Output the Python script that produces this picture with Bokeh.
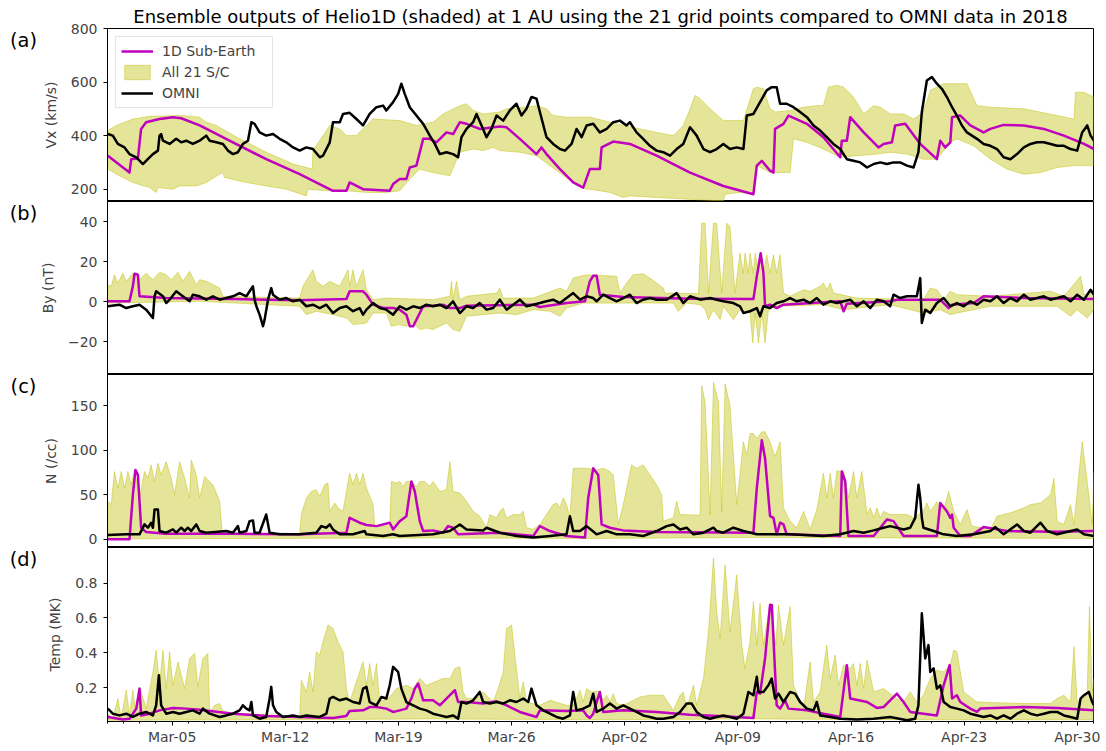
import numpy as np
from datetime import datetime
from bokeh.plotting import figure
from bokeh.layouts import column, row
from bokeh.models import (Range1d, FixedTicker, DatetimeTickFormatter, Label,
                          Legend, LegendItem)
from bokeh.embed import file_html
from bokeh.resources import INLINE

# ---------------- data (days since 2018-03-01 00:00) ----------------
# Panel (a) Vx (km/s)
va_omni_day = [0.02,0.33,0.64,1.05,1.36,1.78,2.19,2.60,2.81,3.12,
               3.22,3.32,3.43,3.84,4.25,4.56,4.87,5.28,5.70,6.11,
               6.32,6.73,7.14,7.45,7.76,8.07,8.38,8.69,8.90,9.10,
               9.41,9.82,10.24,10.65,11.06,11.48,11.89,12.30,12.71,13.13,
               13.33,13.75,13.95,14.37,14.57,14.98,15.40,15.81,16.22,16.64,
               17.05,17.25,17.67,17.98,18.18,18.39,18.70,19.11,19.53,19.94,
               20.25,20.56,20.97,21.38,21.69,21.90,22.21,22.62,22.83,23.14,
               23.45,23.75,24.07,24.48,24.89,25.30,25.61,25.92,26.23,26.54,
               26.75,27.16,27.57,27.99,28.30,28.71,29.02,29.33,29.64,30.05,
               30.46,30.88,31.29,31.70,32.11,32.32,32.73,33.14,33.56,33.97,
               34.38,34.80,35.21,35.62,36.04,36.45,36.87,37.28,37.69,38.10,
               38.51,38.93,39.34,39.55,39.96,40.37,40.78,41.09,41.40,41.61,
               42.02,42.44,42.85,43.27,43.68,44.09,44.50,44.91,45.33,45.74,
               46.15,46.57,46.99,47.40,47.81,48.22,48.63,49.04,49.46,49.87,
               50.17,50.38,50.69,51.00,51.31,51.62,51.93,52.25,52.55,52.86,
               53.17,53.48,53.79,54.20,54.62,55.03,55.44,55.86,56.27,56.69,
               57.10,57.51,57.93,58.34,58.75,59.17,59.58,59.99,60.30,60.61,
               60.82,61.03]
va_omni = [406,400,369,356,331,319,294,319,331,344,
           400,406,381,369,388,375,381,369,381,400,
           381,375,369,344,331,338,369,381,450,444,
           412,400,406,388,375,356,344,356,350,319,
           325,375,450,450,481,485,462,438,481,506,
           512,494,525,556,594,556,506,475,444,400,
           369,331,338,331,319,394,425,450,481,438,
           394,425,475,456,494,519,475,500,544,538,
           488,394,369,350,344,369,425,394,438,444,
           412,425,450,456,438,450,412,388,362,344,
           338,325,350,369,431,400,350,338,350,369,
           350,356,350,475,481,525,569,581,581,519,
           519,506,488,469,438,419,394,369,350,312,
           306,300,281,294,300,294,300,300,288,281,
           338,488,606,619,594,575,544,506,475,438,
           412,400,388,369,362,350,319,312,331,356,
           369,375,375,369,362,362,350,344,412,438,
           400,381]
va_sub_day = [0.02,1.36,1.47,1.88,2.08,2.39,3.22,4.05,4.56,5.70,
              7.76,9.82,11.89,13.95,14.78,14.98,15.81,17.46,17.67,18.08,
              18.49,18.70,19.11,19.53,19.94,20.35,20.97,21.38,21.80,22.21,
              23.03,24.27,24.69,25.51,26.54,26.85,27.16,27.99,28.81,29.43,
              29.84,30.46,30.57,31.29,32.32,33.97,36.04,38.10,39.96,40.17,
              40.48,40.99,41.20,41.30,41.82,42.13,43.27,44.29,45.33,45.43,
              45.74,45.95,46.78,47.70,48.01,48.53,48.73,49.35,50.28,51.31,
              51.52,51.83,52.14,52.25,52.76,53.38,54.20,54.62,55.44,56.69,
              57.93,59.17,60.41,61.03]
va_sub = [325,262,312,315,425,450,462,469,465,438,
          375,312,256,194,194,225,200,194,219,238,
          238,281,288,388,388,375,412,406,450,444,
          425,434,431,388,331,356,331,275,225,206,
          275,275,356,378,369,325,262,212,181,288,
          306,269,262,425,444,475,444,394,319,381,
          381,469,412,356,369,375,438,444,369,312,
          381,356,375,469,475,438,412,425,440,438,
          425,400,369,350]
va_hi_day = [0.02,0.54,1.57,2.60,4.66,5.70,6.11,6.73,8.17,9.82,
             11.48,12.67,12.71,13.75,14.37,14.78,15.40,16.02,16.43,18.08,
             19.11,20.14,20.76,21.80,22.21,22.62,23.24,24.27,24.69,25.92,
             26.54,27.16,27.57,28.40,29.43,29.85,31.91,33.97,35.01,35.21,
             35.62,36.04,36.35,36.66,37.28,38.10,39.34,39.96,40.17,40.58,
             40.99,41.30,42.23,43.06,43.88,44.29,44.60,45.12,45.54,46.15,
             46.78,47.40,47.81,48.42,49.25,49.87,50.48,50.90,51.73,53.17,
             53.79,54.62,56.69,58.75,59.79,59.89,60.41,61.03]
va_hi = [419,438,462,472,475,469,450,438,388,338,
         294,275,344,438,425,400,400,438,462,456,
         438,450,481,512,519,494,481,488,500,506,
         512,500,475,469,469,469,438,412,400,412,
         438,500,550,538,500,456,456,575,581,575,
         500,488,494,506,512,512,581,588,581,544,
         481,512,506,481,481,462,488,569,594,594,
         512,506,500,475,462,562,562,544]
va_lo_day = [0.02,0.74,1.57,2.60,3.01,3.12,4.05,4.46,5.49,6.11,
             6.94,7.14,7.24,8.59,9.82,11.06,12.30,12.40,13.54,14.78,
             16.02,17.25,18.08,18.70,19.32,20.14,21.18,21.80,22.62,23.24,
             23.86,24.27,25.51,26.54,27.37,28.81,29.64,29.85,31.08,31.91,
             32.32,33.97,36.04,38.10,38.21,39.13,39.96,40.17,40.99,42.23,
             42.44,43.27,44.29,45.33,46.36,47.60,48.42,49.46,50.48,51.31,
             52.14,52.55,53.59,54.62,55.65,56.69,57.72,58.75,59.79,61.03]
va_lo = [275,250,225,206,188,206,200,212,212,225,
         256,262,244,225,212,200,175,200,194,194,
         188,188,194,238,275,262,250,338,350,344,
         356,344,338,325,288,225,200,200,188,169,
         175,169,162,156,181,188,181,288,262,262,
         388,375,350,319,325,331,338,331,312,312,
         375,388,362,312,275,256,262,281,288,288]

# Panel (b) By (nT)
vb_omni_day = [0.02,0.74,1.16,1.57,1.98,2.39,2.81,2.91,3.01,3.43,
               3.63,3.84,4.25,4.66,5.08,5.28,5.70,6.11,6.52,6.94,
               7.35,7.76,8.17,8.59,9.00,9.10,9.21,9.41,9.62,9.72,
               9.93,10.13,10.24,10.65,11.06,11.48,11.89,12.30,12.71,13.13,
               13.54,13.95,14.37,14.78,15.19,15.60,15.81,16.02,16.43,16.84,
               17.25,17.67,18.08,18.49,18.91,19.32,19.73,20.14,20.56,20.97,
               21.38,21.80,22.21,22.62,23.03,23.45,23.86,24.27,24.69,25.10,
               25.51,25.92,26.34,26.75,27.16,27.57,27.99,28.40,28.81,29.23,
               29.64,30.05,30.26,30.67,31.08,31.50,31.91,32.32,32.73,33.14,
               33.56,33.97,34.59,35.21,35.62,36.04,36.66,37.28,37.69,38.10,
               38.72,39.13,39.34,39.75,40.17,40.37,40.58,40.99,41.40,41.82,
               42.23,42.64,43.06,43.47,43.88,44.29,44.71,45.12,45.54,45.95,
               46.36,46.78,47.19,47.60,48.01,48.42,48.63,49.04,49.46,50.07,
               50.28,50.38,50.59,50.90,51.31,51.73,52.14,52.55,52.97,53.38,
               53.79,54.20,54.62,55.03,55.44,55.86,56.27,56.69,57.10,57.51,
               57.93,58.34,58.75,59.17,59.58,59.99,60.41,60.82,61.03]
vb_omni = [-2.3,-1.5,-3.2,-2.3,-1.5,-4.0,-8.2,2.7,5.2,2.7,
           -0.7,1.0,5.2,2.7,0.2,3.5,2.7,1.0,2.7,1.0,
           1.8,2.7,4.3,2.7,7.7,1.0,-2.3,-6.5,-12.3,-9.0,
           1.0,6.8,3.5,1.0,1.8,0.2,1.0,-2.3,-1.5,-3.2,
           -1.5,-5.7,-3.2,-2.3,-4.8,-3.2,-6.5,-4.0,-0.7,-3.2,
           -4.0,-6.5,-2.3,-4.0,-2.3,-3.2,-1.5,-2.3,-1.5,-3.2,
           0.2,-5.7,-2.3,-3.2,-0.7,-4.0,-3.2,1.0,-4.0,-1.5,
           1.0,-2.3,-1.5,-0.7,0.2,1.0,-0.7,1.8,4.3,1.0,
           2.7,1.8,0.2,3.5,1.8,0.2,1.8,3.5,-0.7,1.0,
           1.8,1.0,1.0,4.3,-0.7,2.7,1.0,1.8,1.0,0.2,
           -0.7,-2.3,-5.7,-4.8,-3.2,-7.3,-2.3,-3.2,-0.7,0.2,
           1.8,0.2,1.0,-0.7,1.8,-1.5,0.2,-0.7,0.2,1.0,
           -2.3,0.2,-3.2,1.0,0.2,-2.3,3.5,1.8,2.7,2.7,
           11.8,-10.7,-4.0,-5.7,-0.7,1.8,-2.3,-0.7,-2.3,0.2,
           -1.5,1.0,0.2,2.7,-0.7,1.8,0.2,3.5,1.0,1.8,
           2.7,1.0,1.8,2.7,0.2,3.5,1.0,6.0,3.5]
vb_sub_day = [0.02,1.36,1.57,1.67,1.88,1.98,3.63,7.76,11.89,14.78,
              14.98,15.81,16.02,16.43,17.05,17.67,18.08,18.49,18.70,18.91,
              19.53,20.14,20.76,21.18,21.80,22.21,26.34,26.75,28.40,29.54,
              29.84,30.05,30.26,30.46,31.91,36.04,39.96,40.17,40.41,40.58,
              40.68,40.99,41.40,41.82,44.29,45.33,45.54,45.74,48.42,48.84,
              51.52,51.73,52.04,52.25,53.59,54.20,56.69,61.03]
vb_sub = [0.2,0.2,7.7,14.0,13.5,2.7,1.8,1.3,0.7,1.3,
          5.2,5.2,3.5,-1.5,-3.2,-3.2,-4.0,-6.5,-12.3,-12.3,
          -2.3,-2.0,-1.5,-3.2,-3.2,-2.0,-1.5,-2.7,-0.7,0.2,
          10.2,13.0,13.0,3.5,2.3,1.5,1.3,12.7,24.3,14.3,
          -2.3,-1.5,-3.2,-1.5,-0.3,0.2,-4.8,-1.0,0.2,1.0,
          1.0,-0.7,-3.2,-1.5,-0.7,2.7,1.8,1.3]
vb_hi_day = [0.02,0.23,0.43,0.64,0.95,1.16,1.57,1.98,2.39,2.81,
             3.22,3.63,3.94,4.36,4.66,5.08,5.49,5.70,6.11,6.52,
             6.94,7.14,11.89,12.09,12.71,12.92,13.33,13.75,14.37,14.88,
             14.98,15.19,15.40,15.81,16.02,16.43,17.25,20.14,21.18,21.28,
             21.38,21.59,21.80,22.21,24.07,24.27,24.48,26.34,27.16,27.99,
             28.40,28.81,29.23,29.64,31.50,31.70,32.11,32.52,33.14,33.56,
             34.38,34.49,36.56,36.76,36.97,37.18,37.49,37.69,38.00,38.31,
             38.51,38.82,39.13,39.34,39.44,39.65,39.75,39.96,40.07,40.27,
             40.41,40.58,40.78,40.99,41.20,41.40,41.61,41.82,42.23,43.06,
             43.47,44.09,44.29,44.50,44.71,44.91,46.36,50.48,50.90,51.31,
             51.73,52.14,52.55,54.62,58.34,59.17,60.20,60.41,61.03]
vb_hi = [8.5,7.7,13.5,9.3,14.3,10.2,14.3,11.0,14.3,11.0,
         14.7,13.5,11.0,14.7,10.2,15.2,8.5,11.0,10.2,8.5,
         6.8,2.7,1.8,7.7,16.0,10.2,7.7,10.2,7.7,16.0,
         7.7,16.0,7.7,16.0,6.0,1.0,1.8,1.0,2.7,10.2,
         1.0,10.2,1.0,2.7,4.3,6.8,1.8,1.8,4.3,6.8,
         5.2,11.8,12.7,13.5,12.7,4.3,9.3,13.5,14.0,11.8,
         6.8,4.3,4.0,39.3,39.3,4.3,39.3,39.3,4.3,39.3,
         37.7,4.3,24.3,14.3,24.3,14.3,24.3,14.3,24.3,14.3,
         24.3,14.3,23.5,14.3,23.5,14.3,23.5,4.3,2.7,6.0,
         5.2,7.7,9.3,6.0,9.3,4.3,1.8,1.0,6.8,6.0,
         1.0,5.2,3.5,2.7,5.2,2.7,12.7,3.5,4.3]
vb_lo_day = [0.02,5.70,11.89,12.30,12.92,13.95,14.78,15.19,16.02,16.43,
             17.25,17.56,18.08,18.49,18.91,19.32,19.73,20.14,20.56,20.97,
             21.38,21.80,22.21,23.24,24.27,25.30,26.34,27.37,27.99,28.40,
             29.43,35.01,35.31,35.83,36.66,36.97,37.18,37.49,37.90,38.10,
             38.72,39.13,39.75,39.92,40.07,40.27,40.48,40.68,40.89,41.40,
             44.29,45.54,48.42,50.48,51.52,52.14,52.55,53.59,54.62,58.75,
             59.58,59.99,60.61,61.03]
vb_lo = [-0.7,0.2,-2.3,-6.5,-4.8,-6.5,-8.2,-11.5,-10.7,-5.7,
         -5.7,-12.3,-11.5,-12.3,-10.7,-14.0,-13.2,-14.0,-12.3,-10.7,
         -14.0,-14.8,-7.3,-6.5,-5.7,-6.5,-4.0,-4.8,-7.3,-3.2,
         -0.7,-0.7,-4.8,-0.7,-1.5,-4.0,-9.0,-4.0,-9.0,-2.3,
         -9.0,-4.0,-5.7,-20.7,-5.7,-20.7,-5.7,-20.7,-4.0,-2.3,
         -1.5,-4.0,-1.5,-5.7,-4.0,-6.5,-5.7,-4.0,-2.3,-2.3,
         -7.3,-4.0,-8.2,-4.0]

# Panel (c) N (/cc)
vc_omni_day = [0.02,1.16,1.98,2.29,2.50,2.70,2.81,2.91,3.12,3.22,
               3.63,4.05,4.25,4.56,4.77,4.97,5.18,5.49,5.70,6.11,
               7.35,7.76,8.07,8.17,8.59,8.79,9.00,9.10,9.41,9.82,
               10.03,10.65,11.89,12.92,13.23,13.54,13.75,13.95,14.37,15.19,
               15.91,16.02,17.05,17.67,18.08,20.14,21.18,21.80,22.21,23.24,
               23.45,24.27,25.30,26.34,27.37,28.40,28.61,28.81,29.23,29.64,
               30.26,30.88,31.50,32.32,33.14,33.97,34.59,35.01,35.42,35.83,
               36.25,36.87,37.49,37.69,38.10,38.72,39.34,40.17,42.23,44.29,
               45.33,46.15,46.78,47.40,48.01,48.42,49.25,49.66,49.97,50.17,
               50.28,50.38,50.48,51.11,51.73,52.55,53.59,54.62,54.93,55.44,
               56.27,56.69,57.10,57.72,58.13,58.75,59.99,60.41,61.03]
vc_omni = [4.8,5.6,5.6,16.7,13.0,18.6,13.0,33.4,33.4,9.3,
           7.4,11.1,7.4,13.0,9.3,13.0,9.3,16.7,9.3,7.4,
           9.3,7.4,14.8,7.4,9.3,20.4,21.1,7.4,7.4,27.8,
           7.4,5.6,5.6,7.4,14.8,13.0,16.7,11.1,5.6,5.6,
           9.3,5.6,3.7,5.6,3.7,5.6,9.3,16.7,11.1,10.0,
           13.0,7.4,3.7,1.9,3.7,5.6,26.0,9.3,9.3,14.8,
           5.6,9.3,5.6,5.6,3.7,9.3,14.8,16.7,11.1,13.0,
           5.6,7.4,13.0,9.3,7.4,13.0,9.3,5.6,5.6,3.7,
           5.6,9.3,7.4,10.0,13.0,14.8,11.1,13.0,24.1,61.2,
           46.4,24.1,13.0,9.3,5.6,3.7,5.6,9.3,13.7,5.6,
           16.7,9.3,7.4,18.6,9.3,5.6,11.1,5.6,3.7]
vc_sub_day = [0.02,1.36,1.57,1.73,1.88,2.08,2.39,3.63,7.76,11.89,
              14.78,14.98,15.60,16.02,16.64,17.46,17.67,18.08,18.49,18.80,
              19.01,19.32,19.53,20.14,20.76,21.07,21.38,21.69,24.27,26.34,
              26.75,27.37,28.40,29.54,29.74,30.05,30.36,30.57,31.08,31.91,
              33.97,39.96,40.17,40.48,40.68,40.99,41.20,41.40,41.61,41.82,
              42.02,45.33,45.43,45.64,45.84,47.40,47.81,48.22,48.63,49.25,
              51.31,51.52,51.93,52.14,52.25,52.35,52.76,53.38,54.20,55.65,
              58.75,61.03]
vc_sub = [0.0,0.0,50.1,77.9,72.3,13.0,8.2,6.3,6.3,5.6,
          7.4,24.1,18.6,16.0,14.8,18.6,11.1,20.4,26.0,64.9,
          53.8,20.4,9.3,10.0,7.4,14.8,13.0,5.6,7.4,3.7,
          14.8,9.3,3.7,1.9,46.4,79.8,72.3,16.7,13.0,10.0,
          8.2,7.4,57.5,111.3,90.9,26.0,24.1,5.6,18.6,16.7,
          5.6,3.7,76.1,64.9,3.7,3.7,13.0,22.3,20.4,3.7,
          3.7,40.8,31.5,24.1,27.8,13.0,3.7,3.7,13.7,9.3,
          8.5,9.3]
vc_hi_day = [0.02,0.23,0.43,0.64,0.85,1.05,1.26,1.47,1.67,1.98,
             2.29,2.50,2.70,2.91,3.12,3.32,3.63,3.94,4.15,4.46,
             4.77,5.08,5.18,5.49,5.70,6.01,6.52,6.94,7.10,11.89,
             11.99,12.30,12.61,12.92,13.13,13.44,13.64,13.75,14.06,14.26,
             14.57,14.98,15.19,15.40,15.60,15.81,16.02,16.43,16.53,17.46,
             17.56,17.87,18.08,18.29,18.49,18.80,19.11,19.32,19.63,19.94,
             20.14,20.56,20.97,21.18,21.38,21.80,22.21,22.62,23.03,23.45,
             23.65,24.07,24.27,24.48,24.69,25.10,25.51,25.72,25.92,26.34,
             26.75,27.16,27.57,27.78,27.99,28.19,28.40,28.61,28.81,29.64,
             30.26,30.67,31.08,31.29,31.60,31.91,32.42,32.73,33.14,33.56,
             33.97,34.28,34.38,35.01,35.21,35.42,36.66,36.76,36.97,37.28,
             37.49,37.80,38.00,38.21,38.51,38.93,39.34,39.55,39.75,39.96,
             40.17,40.48,40.68,40.99,41.30,41.61,41.82,42.23,42.64,43.06,
             43.47,43.88,44.29,44.50,44.71,44.91,45.12,45.54,45.84,46.15,
             46.36,46.67,46.99,47.19,47.40,47.60,47.81,48.01,48.42,49.46,
             49.87,50.48,50.69,50.90,51.31,51.73,52.04,52.35,52.76,53.17,
             53.48,54.62,55.03,55.86,56.69,57.10,57.72,58.34,58.55,58.75,
             59.17,59.58,59.79,60.30,60.61,60.92,61.03]
vc_hi = [42.7,39.0,76.1,57.5,76.1,57.5,76.1,61.2,78.0,46.4,
         76.1,68.6,83.5,64.9,85.3,72.3,87.2,68.6,50.1,87.2,
         68.6,46.4,89.0,72.3,46.4,70.5,61.2,42.7,6.5,6.5,
         27.8,46.4,53.8,55.7,48.2,61.2,63.1,31.5,40.8,35.2,
         31.5,74.2,61.2,74.2,61.2,74.2,57.5,39.0,15.0,15.0,
         64.9,63.1,64.9,59.4,64.9,64.9,59.4,64.9,64.9,59.4,
         64.9,53.8,55.7,87.2,53.8,51.9,42.7,31.5,26.0,13.0,
         27.8,24.1,31.5,35.2,24.1,27.8,27.8,31.5,13.0,11.1,
         16.7,27.8,39.0,40.8,35.2,46.4,39.0,24.1,79.8,79.8,
         77.9,79.8,76.1,72.3,16.7,39.0,83.5,79.8,83.5,72.3,
         61.2,50.1,20.4,24.1,42.7,27.8,27.1,172.5,154.0,27.8,
         176.2,154.0,31.5,174.4,150.3,39.0,109.4,94.6,118.7,118.7,
         113.2,120.6,120.6,109.4,92.8,109.4,35.2,20.4,13.0,31.5,
         11.1,33.4,74.2,46.4,74.2,46.4,76.5,76.5,46.4,76.1,
         46.4,76.1,27.8,35.2,24.1,35.2,24.1,31.5,27.8,27.8,
         24.1,31.5,40.8,31.5,42.0,33.4,53.8,31.5,16.7,33.4,
         14.8,11.1,26.0,29.7,35.2,39.0,40.8,50.1,68.6,20.4,
         16.7,39.0,16.7,109.4,64.9,16.7,76.1]
vc_lo_day = [0.02,1.5,10.0,20.0,30.0,40.0,50.0,61.03]
vc_lo = [0.0,0.5,1.0,1.5,1.0,2.0,1.5,1.0]

# Panel (d) Temp (MK)
vd_omni_day = [0.02,0.33,0.74,1.16,1.57,1.98,2.39,2.81,3.01,3.18,
               3.32,3.63,4.05,4.46,4.87,5.28,5.70,5.90,6.32,6.94,
               7.35,7.76,8.17,8.38,8.59,8.79,8.90,9.00,9.41,9.82,
               10.03,10.13,10.24,10.44,10.86,11.48,11.89,12.30,13.13,13.54,
               13.75,13.95,14.37,14.78,15.19,15.60,15.81,16.02,16.22,16.64,
               16.95,17.25,17.46,17.67,17.98,18.18,18.49,18.91,19.32,19.73,
               20.14,20.56,20.97,21.38,21.69,21.90,22.21,22.62,23.03,23.24,
               23.65,24.07,24.48,24.89,25.30,25.72,26.03,26.23,26.54,26.96,
               27.37,27.78,28.19,28.61,28.81,29.02,29.43,29.84,
               30.05,30.26,30.67,31.08,31.50,31.91,32.32,32.73,33.14,33.56,
               33.97,34.38,35.01,35.42,35.83,36.14,36.45,36.87,37.28,37.69,
               38.10,38.51,38.93,39.34,39.65,39.96,40.17,40.27,40.58,40.89,
               41.09,41.30,41.51,41.82,42.23,42.54,42.85,43.27,43.68,43.88,
               44.09,44.71,45.33,46.36,47.40,48.42,49.46,49.97,50.17,50.38,
               50.59,50.79,50.90,51.11,51.31,51.52,51.73,52.14,52.55,52.97,
               53.38,54.20,54.62,55.03,55.44,55.86,56.27,56.69,57.10,57.51,
               57.93,58.34,58.75,59.17,59.58,59.99,60.20,60.41,60.71,60.92,
               61.03]
vd_omni = [0.079,0.050,0.040,0.050,0.031,0.050,0.060,0.040,0.098,0.271,
           0.098,0.050,0.060,0.050,0.060,0.069,0.050,0.079,0.050,0.031,
           0.040,0.050,0.069,0.098,0.079,0.069,0.117,0.040,0.021,0.031,
           0.137,0.204,0.098,0.060,0.031,0.040,0.031,0.040,0.031,0.050,
           0.137,0.146,0.127,0.137,0.117,0.108,0.194,0.204,0.117,0.098,
           0.146,0.137,0.213,0.319,0.290,0.194,0.117,0.098,0.079,0.069,
           0.050,0.040,0.031,0.040,0.021,0.117,0.108,0.127,0.175,0.117,
           0.108,0.117,0.108,0.127,0.117,0.137,0.117,0.194,0.098,0.069,
           0.050,0.031,0.021,0.040,0.175,0.069,0.079,0.098,
           0.165,0.060,0.079,0.108,0.079,0.098,0.079,0.060,0.040,0.031,
           0.021,0.021,0.031,0.060,0.108,0.108,0.060,0.031,0.021,0.031,
           0.040,0.031,0.021,0.050,0.175,0.156,0.262,0.175,0.175,0.213,
           0.252,0.137,0.165,0.117,0.175,0.165,0.117,0.079,0.069,0.117,
           0.040,0.031,0.021,0.017,0.021,0.031,0.012,0.021,0.098,0.627,
           0.367,0.444,0.290,0.310,0.194,0.213,0.117,0.088,0.079,0.069,
           0.050,0.031,0.040,0.021,0.040,0.021,0.050,0.069,0.050,0.040,
           0.050,0.060,0.060,0.040,0.031,0.021,0.137,0.156,0.175,0.117,
           0.098]
vd_sub_day = [0.02,0.95,1.36,1.78,1.98,2.08,2.60,3.22,4.05,4.87,
              5.70,7.76,9.82,11.89,13.95,14.78,14.98,15.81,16.22,16.64,
              17.25,17.67,18.08,18.49,18.80,19.01,19.22,19.53,20.14,20.56,
              20.97,21.49,21.69,22.21,23.24,24.07,24.69,25.51,26.54,26.75,
              28.40,29.43,29.64,29.84,30.05,30.26,30.46,30.67,31.91,33.97,
              36.04,38.10,39.96,40.17,40.37,40.68,40.99,41.10,41.40,41.61,
              41.92,42.13,43.27,44.29,45.33,45.74,45.95,46.99,47.60,48.01,
              48.42,48.84,49.25,49.66,50.48,51.31,51.73,52.10,52.25,52.55,
              52.76,53.38,53.79,53.99,56.69,58.75,61.03]
vd_sub = [0.031,0.017,0.021,0.079,0.194,0.040,0.050,0.069,0.083,0.079,
          0.073,0.050,0.037,0.031,0.025,0.037,0.065,0.069,0.088,0.088,
          0.079,0.060,0.069,0.079,0.137,0.194,0.223,0.127,0.127,0.098,
          0.137,0.185,0.117,0.117,0.108,0.121,0.098,0.060,0.031,0.069,
          0.065,0.069,0.040,0.025,0.050,0.117,0.175,0.060,0.069,0.060,
          0.044,0.035,0.025,0.175,0.165,0.367,0.675,0.675,0.098,0.079,
          0.127,0.079,0.069,0.050,0.031,0.329,0.137,0.117,0.083,0.088,
          0.127,0.165,0.117,0.060,0.050,0.040,0.213,0.329,0.137,0.156,
          0.117,0.079,0.060,0.079,0.088,0.083,0.069]
vd_hi_day = [0.02,0.33,0.64,0.85,1.16,1.36,1.57,1.78,2.00,2.39,
             2.81,3.01,3.22,3.43,3.63,3.84,4.05,4.36,4.77,5.08,
             5.39,5.59,5.90,6.21,6.32,6.63,6.94,7.14,7.76,11.89,
             11.99,12.30,12.51,12.71,12.92,13.13,13.33,13.64,13.95,14.26,
             14.57,14.78,14.98,15.19,15.60,15.81,16.02,16.22,16.43,16.64,
             16.84,17.46,17.87,18.49,18.91,19.32,19.73,20.76,21.18,21.49,
             21.80,22.00,22.21,22.83,23.24,23.86,24.17,24.48,24.69,25.00,
             25.20,25.51,25.72,25.92,26.75,27.37,28.40,28.81,29.02,29.23,
             29.43,29.64,29.95,
             30.40,30.67,30.88,31.08,31.29,31.50,31.91,32.32,32.94,33.56,
             34.38,35.01,35.42,35.62,35.83,36.25,36.45,36.87,37.18,37.49,
             37.69,37.90,38.21,38.51,38.93,39.24,39.44,39.75,39.96,40.17,
             40.37,40.58,40.99,41.35,41.51,41.82,42.23,42.44,43.06,43.47,
             43.68,44.09,44.29,44.50,44.71,45.02,45.22,45.54,45.95,46.15,
             46.36,46.57,46.78,46.99,47.40,48.01,48.42,48.84,49.25,49.66,
             50.07,50.48,50.90,51.31,51.73,52.14,52.35,52.55,52.76,52.97,
             53.79,56.69,58.34,58.75,59.17,59.58,59.79,59.99,60.41,60.61,
             60.75,60.92,61.03]
vd_hi = [0.050,0.021,0.137,0.021,0.185,0.040,0.185,0.040,0.200,0.079,
         0.290,0.415,0.213,0.415,0.194,0.406,0.213,0.348,0.194,0.367,
         0.396,0.204,0.367,0.396,0.060,0.098,0.108,0.065,0.052,0.035,
         0.242,0.175,0.290,0.175,0.406,0.387,0.463,0.560,0.540,0.463,
         0.406,0.194,0.117,0.175,0.290,0.348,0.213,0.338,0.213,0.338,
         0.117,0.146,0.194,0.213,0.194,0.252,0.213,0.252,0.252,0.310,
         0.319,0.175,0.137,0.137,0.175,0.117,0.194,0.290,0.540,0.560,
         0.387,0.137,0.233,0.117,0.098,0.127,0.098,0.098,0.137,0.185,
         0.117,0.194,0.175,
         0.180,0.127,0.156,0.117,0.165,0.108,0.098,0.117,0.146,0.156,
         0.156,0.069,0.156,0.175,0.079,0.213,0.098,0.252,0.521,0.944,
         0.637,0.483,0.906,0.521,0.848,0.444,0.310,0.463,0.694,0.444,
         0.685,0.444,0.685,0.444,0.675,0.444,0.665,0.213,0.079,0.348,
         0.117,0.175,0.310,0.444,0.252,0.387,0.213,0.329,0.310,0.338,
         0.213,0.338,0.194,0.358,0.175,0.194,0.165,0.137,0.117,0.175,
         0.117,0.156,0.252,0.300,0.290,0.329,0.415,0.406,0.290,0.175,
         0.117,0.108,0.108,0.137,0.156,0.117,0.435,0.117,0.137,0.175,
         0.665,0.175,0.252]
vd_lo_day = [0.02,10.0,20.0,30.0,40.0,50.0,61.03]
vd_lo = [0.012,0.015,0.020,0.015,0.020,0.015,0.015]

x_tick_dates = ["2018-03-05","2018-03-12","2018-03-19","2018-03-26","2018-04-02",
                "2018-04-09","2018-04-16","2018-04-23","2018-04-30"]
title_text = ("Ensemble outputs of Helio1D (shaded) at 1 AU using the 21 grid points "
              "compared to OMNI data in 2018")
panel_tags = ["(a)", "(b)", "(c)", "(d)"]

# ---------------- helpers ----------------
START = np.datetime64("2018-03-01T00:00:00", "ms")
FONT = "DejaVu Sans"
MAG = "#bf00bf"
YEL = "#bfbf00"
GUTTER = 36
FRAME_W = 986
LEFT = 71
RIGHT = 12
TOP_A = 28          # space above panel (a): holds the title
FHS = [173, 173, 173, 174]
XAXIS_H = 24


def to_dt(days):
    return START + (np.asarray(days, dtype=float) * 86400000.0).astype("timedelta64[ms]")


def pair(d, v):
    n = min(len(d), len(v))
    return to_dt(d[:n]), np.asarray(v[:n], dtype=float)


xr = Range1d(start=datetime(2018, 3, 1), end=datetime(2018, 5, 1))


def blank(width, height):
    g = figure(width=width, height=height, x_range=Range1d(0, width),
               y_range=Range1d(0, height), x_axis_location=None, y_axis_location=None,
               toolbar_location=None, output_backend="svg", min_border=0,
               outline_line_color=None, background_fill_color="white",
               border_fill_color="white")
    g.grid.grid_line_color = None
    return g


def make_panel(data, ylo, yhi, yticks, ylabel, fh, bottom=False, overrides=None, top=0):
    (o_d, o_v), (s_d, s_v), (h_d, h_v), (l_d, l_v) = data
    p = figure(frame_width=FRAME_W, frame_height=fh, x_range=xr,
               y_range=Range1d(ylo, yhi), x_axis_type="datetime",
               x_axis_location=("below" if bottom else None),
               output_backend="svg", toolbar_location=None,
               min_border_left=LEFT, min_border_right=RIGHT, min_border_top=top,
               min_border_bottom=0, background_fill_color="white",
               border_fill_color="white")
    p.grid.grid_line_color = None
    p.outline_line_color = "black"
    p.outline_line_width = 1
    p.outline_line_alpha = 1

    hx, hy = pair(h_d, h_v)
    lx, ly = pair(l_d, l_v)
    bx = np.concatenate([hx, lx[::-1]])
    by = np.concatenate([hy, ly[::-1]])
    r_band = p.patch(bx, by, fill_color=YEL, fill_alpha=0.4, line_color=YEL,
                     line_alpha=0.45, line_width=1)
    sx, sy = pair(s_d, s_v)
    r_sub = p.line(sx, sy, line_color=MAG, line_width=2.5, line_join="round")
    ox, oy = pair(o_d, o_v)
    r_omni = p.line(ox, oy, line_color="black", line_width=2.5, line_join="round")

    ax = p.yaxis[0]
    ax.ticker = FixedTicker(ticks=yticks)
    ax.axis_label = ylabel
    ax.axis_label_text_font = FONT
    ax.axis_label_text_font_size = "14px"
    ax.axis_label_text_font_style = "normal"
    ax.axis_label_standoff = 9
    ax.major_label_text_font = FONT
    ax.major_label_text_font_size = "14px"
    ax.major_label_standoff = 6
    ax.major_tick_out = 4
    ax.major_tick_in = 0
    ax.minor_tick_line_color = None
    ax.axis_line_color = "black"
    ax.major_tick_line_color = "black"
    if overrides:
        ax.major_label_overrides = overrides

    if bottom:
        xa = p.xaxis[0]
        major = [np.datetime64(d + "T00:00:00", "ms").astype(np.int64).item()
                 for d in x_tick_dates]
        minor = [(START + np.timedelta64(k, "D")).astype(np.int64).item()
                 for k in range(0, 62)]
        xa.ticker = FixedTicker(ticks=major, minor_ticks=minor)
        fmt = "%b-%d"
        xa.formatter = DatetimeTickFormatter(
            microseconds=fmt, milliseconds=fmt, seconds=fmt, minsec=fmt, minutes=fmt,
            hourmin=fmt, hours=fmt, days=fmt, months=fmt, years=fmt)
        xa.major_label_text_font = FONT
        xa.major_label_text_font_size = "14px"
        xa.major_label_standoff = 3
        xa.major_tick_out = 4
        xa.major_tick_in = 0
        xa.minor_tick_out = 2
        xa.minor_tick_in = 0
        xa.axis_line_color = "black"
        xa.major_tick_line_color = "black"
        xa.minor_tick_line_color = "black"
    return p, r_omni, r_sub, r_band


pa, ro, rs, rb = make_panel(((va_omni_day, va_omni), (va_sub_day, va_sub),
                             (va_hi_day, va_hi), (va_lo_day, va_lo)),
                            154, 800, [200, 400, 600, 800], "Vx (km/s)", FHS[0],
                            top=TOP_A)
pa.title.text = title_text
pa.title.align = "center"
pa.title.text_font = FONT
pa.title.text_font_size = "18px"
pa.title.text_font_style = "normal"
pa.title.text_color = "black"
pa.title.standoff = 3

legend = Legend(items=[LegendItem(label="1D Sub-Earth", renderers=[rs]),
                       LegendItem(label="All 21 S/C", renderers=[rb]),
                       LegendItem(label="OMNI", renderers=[ro])],
                location="top_left", margin=8, padding=5, spacing=3,
                label_height=18, label_width=105, glyph_height=18, glyph_width=32,
                label_standoff=9, label_text_font=FONT, label_text_font_size="14px",
                border_line_color="#cccccc", border_line_width=1,
                background_fill_color="white", background_fill_alpha=0.8)
pa.add_layout(legend)

pb, _, _, _ = make_panel(((vb_omni_day, vb_omni), (vb_sub_day, vb_sub),
                          (vb_hi_day, vb_hi), (vb_lo_day, vb_lo)),
                         -36.5, 50.2, [-20, 0, 20, 40], "By (nT)", FHS[1],
                         overrides={-20: "\u221220"})
pc, _, _, _ = make_panel(((vc_omni_day, vc_omni), (vc_sub_day, vc_sub),
                          (vc_hi_day, vc_hi), (vc_lo_day, vc_lo)),
                         -9.2, 185, [0, 50, 100, 150], "N (/cc)", FHS[2])
pd_, _, _, _ = make_panel(((vd_omni_day, vd_omni), (vd_sub_day, vd_sub),
                           (vd_hi_day, vd_hi), (vd_lo_day, vd_lo)),
                          0.005, 1.005, [0.2, 0.4, 0.6, 0.8], "Temp (MK)", FHS[3],
                          bottom=True)

# left strip holding the panel tags (a)-(d)
STRIP_H = TOP_A + sum(FHS) + XAXIS_H
strip = blank(GUTTER, STRIP_H)
offset = TOP_A
for tag, fh in zip(panel_tags, FHS):
    strip.add_layout(Label(x=23, y=STRIP_H - (offset + 12), x_units="screen",
                           y_units="screen", text=tag, text_align="center",
                           text_baseline="middle", text_font=FONT,
                           text_font_size="19.4px", text_color="black"))
    offset += fh

layout = row(strip, column(pa, pb, pc, pd_, spacing=0), spacing=0)
open("out.html", "w").write(file_html(layout, INLINE))
